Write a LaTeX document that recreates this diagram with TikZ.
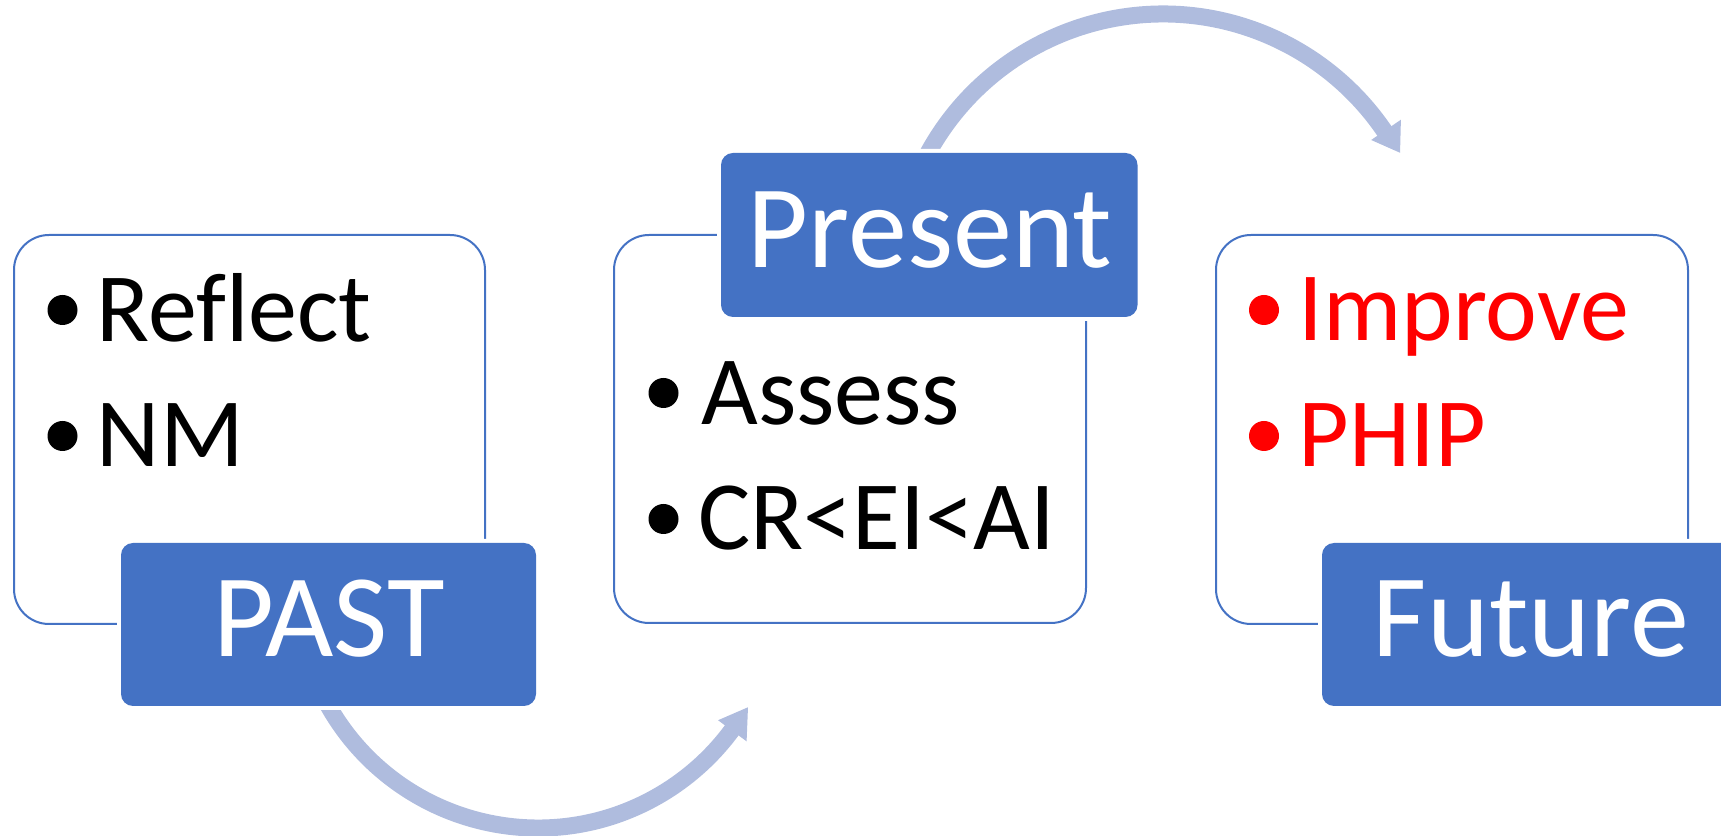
\documentclass[tikz,border=0pt]{standalone}
\usepackage{fontspec}
\setmainfont{Carlito}[Ligatures=NoCommon]
\usetikzlibrary{calc}
\definecolor{boxblue}{RGB}{68,114,196}
\definecolor{arrowblue}{RGB}{175,188,222}
\definecolor{pointred}{RGB}{255,0,0}

\begin{document}
\begin{tikzpicture}[x=0.5pt,y=0.5pt,
  frame/.style={draw=boxblue, line width=1pt, fill=white,
    rounded corners=17.5pt, inner sep=0pt, minimum height=194.5pt},
  tab/.style={fill=boxblue, rounded corners=6pt, inner sep=0pt,
    minimum height=81.5pt,
    preaction={draw=white, line width=4pt}},
  tablabel/.style={text=white, inner sep=0pt, anchor=base,
    font=\fontsize{59pt}{59pt}\selectfont},
  point/.style={inner sep=0pt, anchor=base west,
    font=\fontsize{49pt}{49pt}\selectfont},
  dot/.style={circle, fill, inner sep=0pt, minimum size=15pt},
  band/.style={draw=arrowblue, line width=8.5pt},
  head/.style={fill=arrowblue},
]
\useasboundingbox (0,0) rectangle (1721,836);
\clip (0,0) rectangle (1721,836);

% curved arrows between the stages
\coordinate (lowhub) at (538,249);
\coordinate (highhub) at (1163,554);
\draw[band] ($(lowhub)+(208:241)$) arc[start angle=208, end angle=324, radius=241];
\fill[head] ($(lowhub)+(323.5:224)$) -- ($(lowhub)+(330.2:242)$)
  -- ($(lowhub)+(323.5:259.5)$) -- cycle;
\draw[band] ($(highhub)+(152.4:268)$) arc[start angle=152.4, end angle=33.8, radius=268];
\fill[head] ($(highhub)+(34.3:252)$) -- ($(highhub)+(28.6:270)$)
  -- ($(highhub)+(34.3:288)$) -- cycle;

% white frames
\node[frame, minimum width=235.5pt] (pastframe) at (249.5,406.5) {};
\node[frame, minimum width=236pt, minimum height=194pt] (presentframe) at (850,407) {};
\node[frame, minimum width=236pt] (futureframe) at (1452,406.5) {};

% blue tabs
\node[tab, minimum width=207.5pt] (pasttab) at (328.5,211.5) {};
\node[tab, minimum width=208.25pt, minimum height=82pt] (presenttab) at (929.25,601) {};
\node[tab, minimum width=208pt] (futuretab) at (1530,211.5) {};
\node[tablabel] (pastlabel) at (329,179) {PAST};
\node[tablabel] (presentlabel) at (930,568) {Present};
\node[tablabel] (futurelabel) at (1531,179) {Future};

% past points
\node[dot] (d1) at (62.5,526) {};
\node[point] (reflect) at (96.5,494) {Reflect};
\node[dot] (d2) at (62.5,400) {};
\node[point] (nm) at (96.5,369) {NM};

% present points
\node[dot] (d3) at (663.5,443) {};
\node[point] (assess) at (701,411) {Assess};
\node[dot] (d4) at (663.5,317) {};
\node[point] (levels) at (698,286) {CR<EI<AI};

% future points
\node[dot, pointred] (d5) at (1264,526) {};
\node[point, text=pointred] (improve) at (1298.5,495) {Improve};
\node[dot, pointred] (d6) at (1264,400) {};
\node[point, text=pointred] (phip) at (1298.5,369) {PHIP};
\end{tikzpicture}
\end{document}
